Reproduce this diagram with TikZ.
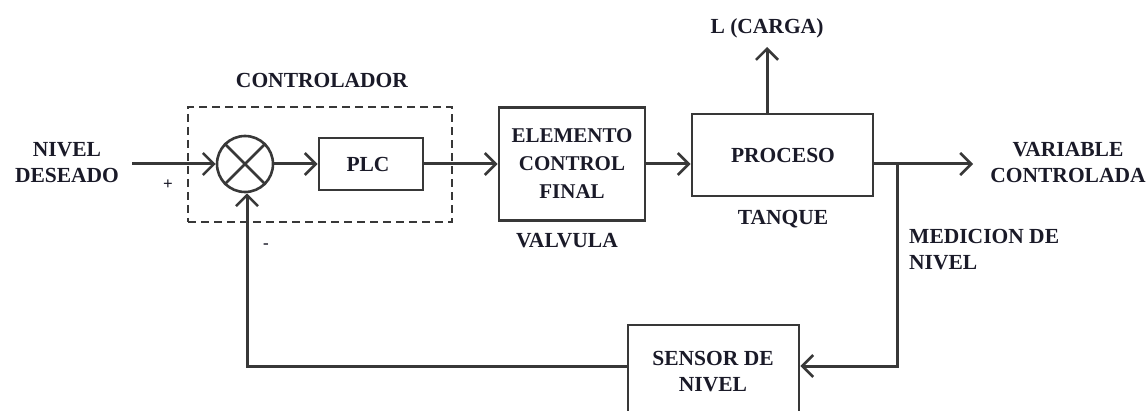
\documentclass[tikz,border=0pt]{standalone}
\usepackage{fontspec}
\setmainfont{Liberation Serif}
\usetikzlibrary{arrows.meta}
\definecolor{ln}{HTML}{383838}
\definecolor{tx}{HTML}{1A1A28}
\begin{document}
\begin{tikzpicture}[x=1pt,y=-1pt,
  lbl/.style={inner sep=0pt, text=tx, font=\fontsize{21.5}{26}\selectfont\bfseries, align=center},
  blk/.style={draw=ln, line width=2.8pt, inner sep=0pt},
  conn/.style={draw=ln, line width=3pt},
  arr/.style={conn, -{Straight Barb[length=11pt,width=22pt,line width=2.6pt]}}]
\useasboundingbox (0,0) rectangle (1148,411);
\clip (0,0) rectangle (1148,411);
% controller frame
\node[draw=ln, line width=2.6pt, dash pattern=on 8pt off 5pt, minimum width=264, minimum height=115, inner sep=0pt] (ctrl) at (320,164.5) {};
\node[lbl] (ctrltxt) at (322,80) {CONTROLADOR};
% summing junction
\node[draw=ln, line width=2.6pt, circle, minimum size=56, inner sep=0pt] (sum) at (245,164) {};
\draw[ln, line width=2.6pt] (sum.north west) -- (sum.south east) (sum.north east) -- (sum.south west);
% blocks
\node[blk, minimum width=104, minimum height=52] (plc) at (371,164) {};
\node[lbl] (plctxt) at (368,164) {PLC};
\node[blk, minimum width=146, minimum height=113] (efc) at (572,164) {};
\node[lbl, font=\fontsize{21}{28}\selectfont\bfseries] (efctxt) at (572,163.5) {ELEMENTO\\CONTROL\\FINAL};
\node[blk, minimum width=181, minimum height=82] (proc) at (782.5,155) {};
\node[lbl] (proctxt) at (783,155) {PROCESO};
\node[blk, minimum width=171, minimum height=110] (sens) at (713.5,380) {};
\node[lbl] (senstxt) at (713,371.5) {SENSOR DE\\NIVEL};
% labels
\node[lbl] (inp) at (67,163) {NIVEL\\DESEADO};
\node[lbl, font=\fontsize{17}{17}\selectfont\bfseries] (plus) at (168,185) {+};
\node[lbl, font=\fontsize{17}{17}\selectfont\bfseries] (minus) at (266,246) {-};
\node[lbl] (valv) at (567,241) {VALVULA};
\node[lbl] (tanq) at (783,219) {TANQUE};
\node[lbl] (carga) at (767,28) {L (CARGA)};
\node[lbl] (outp) at (1068,163) {VARIABLE\\CONTROLADA};
\node[lbl, align=left, anchor=west] (med) at (909,249.5) {MEDICION DE\\NIVEL};
% coordinates
\coordinate (inS) at (132,164);
\coordinate (outE) at (973,164);
\coordinate (br) at (897,164);
\coordinate (brD) at (897,366);
\coordinate (fbL) at (247,366);
\coordinate (cargaTip) at (767,47);
% connectors
\draw[arr] (inS) -- (sum.west);
\draw[arr] (sum.east) -- (plc.west);
\draw[arr] (plc.east) -- (efc.west);
\draw[arr] (efc.east) -- (efc.east -| proc.west);
\draw[arr] (proc.north -| cargaTip) -- (cargaTip);
\draw[arr] (proc.east |- br) -- (outE);
\draw[arr] (br) -- (brD) -- (brD -| sens.east);
\draw[arr] (brD -| sens.west) -- (fbL) -- (fbL |- sum.south);
\end{tikzpicture}
\end{document}
